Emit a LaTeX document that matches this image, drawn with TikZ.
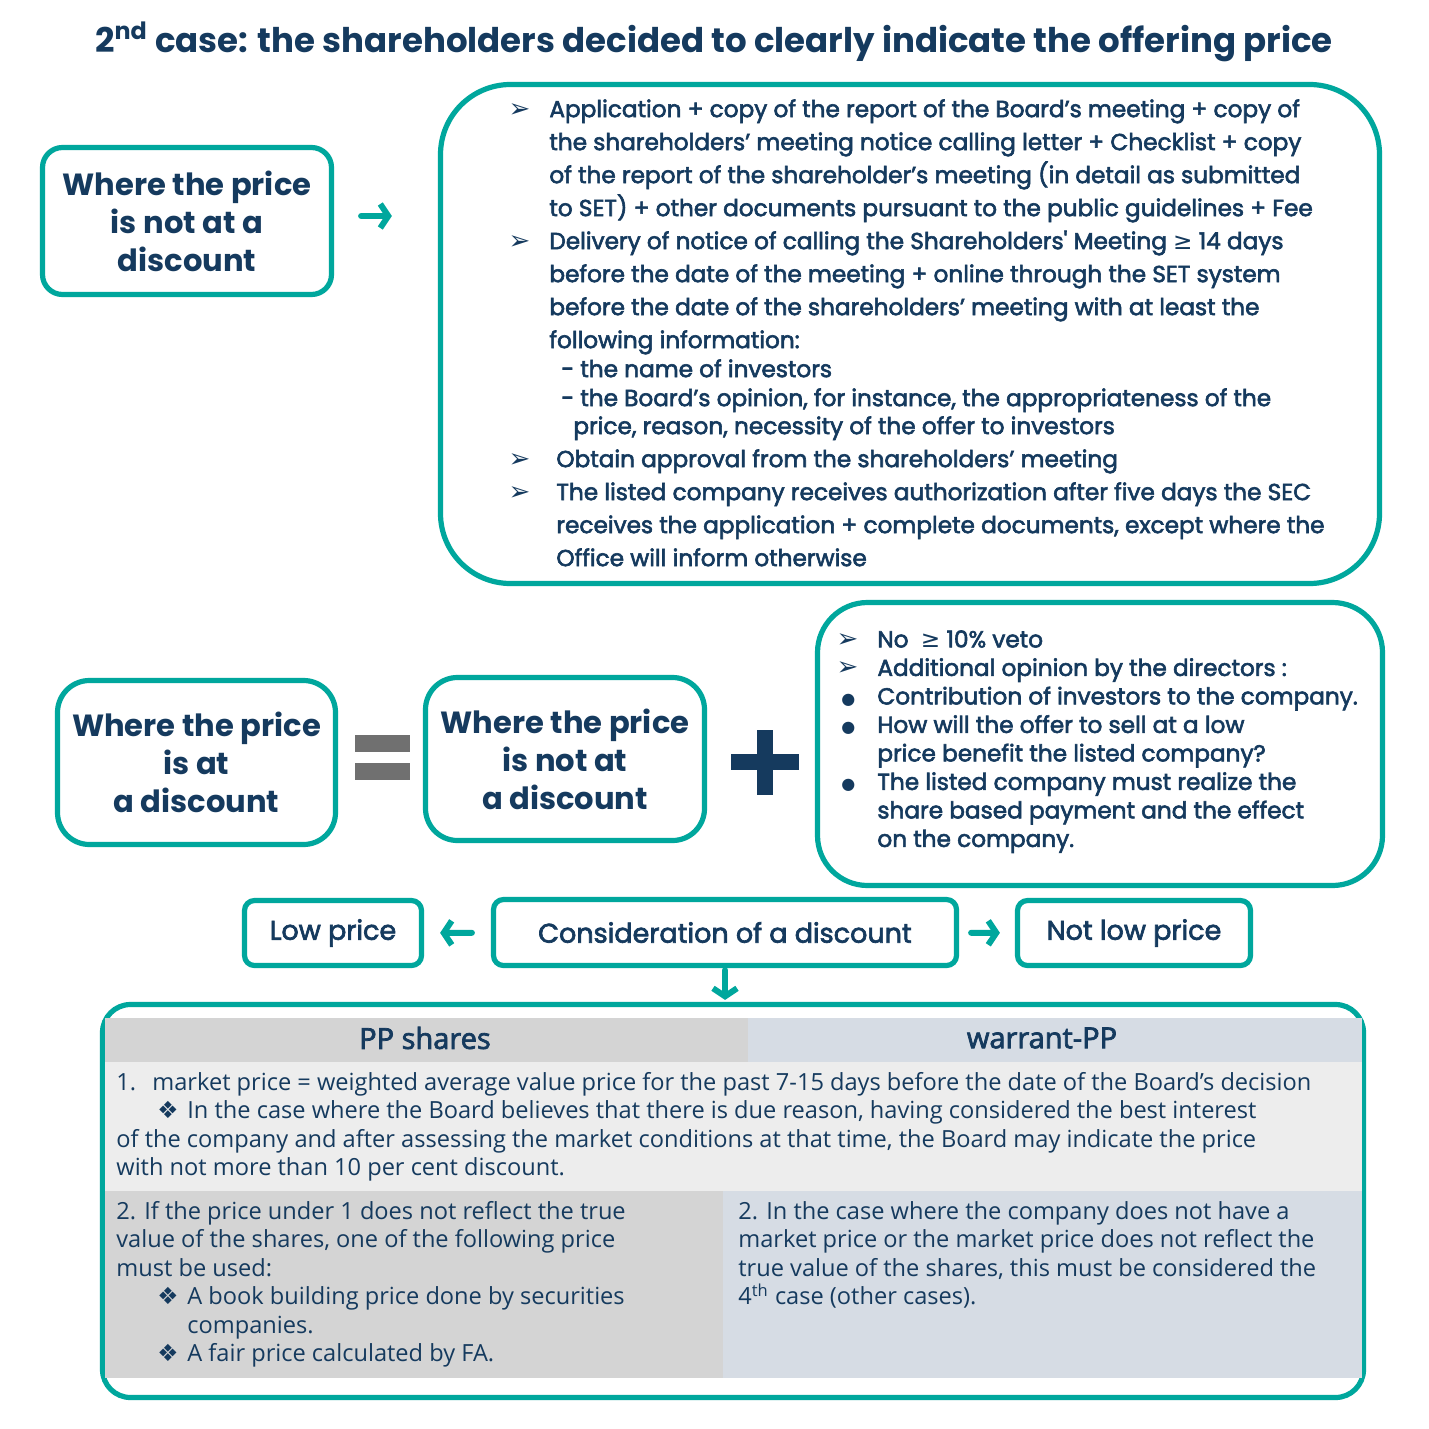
\documentclass[tikz,border=0pt]{standalone}
\usepackage{fontspec}
\setmainfont{Poppins}
\newfontfamily\medfont{Poppins}[FakeBold=2.5]
\newfontfamily\tabfont{Open Sans}
\newfontfamily\tabmed{Open Sans}[FakeBold=2.5]
\newfontfamily\symfont{DejaVu Sans}
\definecolor{SECteal}{HTML}{00A79D}
\definecolor{SECnavy}{HTML}{153A5E}
\definecolor{SECgray}{HTML}{707070}
\definecolor{SEClgray}{HTML}{D4D4D4}
\definecolor{SECblue}{HTML}{D6DCE4}
\definecolor{SECrow}{HTML}{EDEDED}
\usetikzlibrary{arrows.meta, positioning}
\newcommand{\arrbul}[1]{\llap{{\symfont\fontsize{13}{0}\selectfont ➢}\hspace{#1}}}
\newcommand{\dotbul}[1]{\llap{{\symfont\fontsize{8}{0}\selectfont ●}\hspace{#1}}}
\newcommand{\diabul}{\makebox[15pt][l]{\symfont ❖}}

\begin{document}
\begin{tikzpicture}[x=0.5pt, y=-0.5pt,
   box/.style={draw=SECteal, line width=2.6pt, fill=white, align=center, text=SECnavy, inner sep=0pt},
   txt/.style={align=left, text=SECnavy, inner sep=0pt, anchor=north west},
   arr/.style={SECteal, line width=3pt, line cap=round, -{Straight Barb[length=4pt, width=12pt]}}]
      % Page
      \fill[white] (0,0) rectangle (1429,1429);
      % Title
      \node[text=SECnavy, font=\bfseries\fontsize{17}{20}\selectfont] (title) at (714,42) {2\textsuperscript{nd} case: the shareholders decided to clearly indicate the offering price};
      % First case: price not at a discount
      \node[box, rounded corners=10pt, minimum width=144.5pt, minimum height=73.5pt, font=\bfseries\fontsize{15.3}{19}\selectfont] (notdisc) at (187,221) {Where the price\\is not at a\\discount};
      \node[box, rounded corners=35pt, minimum width=469.5pt, minimum height=249.5pt] (docs) at (910,334) {};
      \node[txt, font=\medfont\fontsize{11.6}{16.5}\selectfont] (docstxt) at (549,99) {%
         \arrbul{9.5pt}Application + copy of the report of the Board’s meeting + copy of\\
         the shareholders’ meeting notice calling letter + Checklist + copy\\
         of the report of the shareholder’s meeting (in detail as submitted\\
         to SET) + other documents pursuant to the public guidelines + Fee\\
         \arrbul{9.5pt}Delivery of notice of calling the Shareholders' Meeting {\symfont ≥} 14 days\\
         before the date of the meeting + online through the SET system\\
         before the date of the shareholders’ meeting with at least the\\
         following information:\\[-2pt]
         \hspace*{6pt}- the name of investors\\[-2pt]
         \hspace*{6pt}- the Board’s opinion, for instance, the appropriateness of the\\[-2.5pt]
         \hspace*{12pt}price, reason, necessity of the offer to investors\\
         \hspace*{3.5pt}\arrbul{13pt}Obtain approval from the shareholders’ meeting\\
         \hspace*{3.5pt}\arrbul{13pt}The listed company receives authorization after five days the SEC\\
         \hspace*{3.5pt}receives the application + complete documents, except where the\\
         \hspace*{3.5pt}Office will inform otherwise};
      \draw[arr, shorten <=13.5pt, shorten >=23pt] ([yshift=2.5pt]notdisc.east) -- ([yshift=2.5pt]notdisc.east -| docs.west);
      % Second case: price at a discount
      \node[box, rounded corners=16pt, minimum width=139pt, minimum height=82pt, font=\bfseries\fontsize{15.3}{19}\selectfont] (atdisc) at (196.5,762.5) {Where the price\\is at\\a discount};
      \fill[SECgray] (355,735) rectangle (410,752);
      \fill[SECgray] (355,763) rectangle (410,780);
      \node[box, rounded corners=16pt, minimum width=139.5pt, minimum height=81.5pt, font=\bfseries\fontsize{15.3}{19}\selectfont] (notdisc2) at (565,759) {Where the price\\is not at\\a discount};
      \fill[SECnavy] (731,754) rectangle (799,770);
      \fill[SECnavy] (757,730) rectangle (773,795);
      \node[box, rounded corners=25pt, minimum width=282.5pt, minimum height=141.5pt] (extra) at (1100,744) {};
      \node[txt, font=\medfont\fontsize{11.6}{14.25}\selectfont] (extratxt) at (877,630) {%
         \arrbul{9.5pt}No\ \ {\symfont ≥} 10\% veto\\
         \arrbul{9.5pt}Additional opinion by the directors :\\
         \dotbul{11pt}Contribution of investors to the company.\\
         \dotbul{11pt}How will the offer to sell at a low\\
         price benefit the listed company?\\
         \dotbul{11pt}The listed company must realize the\\
         share based payment and the effect\\
         on the company.};
      % Discount check
      \node[box, rounded corners=5pt, minimum width=231.5pt, minimum height=33pt, font=\medfont\fontsize{13.5}{15}\selectfont] (consid) at (725,932.5) {Consideration of a discount};
      \node[box, rounded corners=5pt, minimum width=88.5pt, minimum height=32.5pt, font=\medfont\fontsize{13.5}{15}\selectfont] (low) at (333,933) {Low price};
      \node[box, rounded corners=5pt, minimum width=116.5pt, minimum height=32.5pt, font=\medfont\fontsize{13.5}{15}\selectfont] (notlow) at (1134,933) {Not low price};
      \draw[arr, shorten <=9.5pt, shorten >=8pt] (consid) -- (low);
      \draw[arr, shorten <=6pt, shorten >=7.5pt] (consid) -- (notlow);
      % Market price table
      \node[box, rounded corners=14pt, minimum width=630.5pt, minimum height=196.5pt] (market) at (733,1201) {};
      \draw[arr, shorten <=1pt, shorten >=1pt] (consid.south) -- (consid.south |- market.north);
      \fill[SEClgray] (105,1018) rectangle (748,1062);
      \fill[SECblue] (748,1018) rectangle (1362,1062);
      \fill[SECrow] (105,1062) rectangle (1362,1191);
      \fill[SEClgray] (105,1191) rectangle (723,1378);
      \fill[SECblue] (723,1191) rectangle (1362,1378);
      \node[text=SECnavy, font=\tabmed\fontsize{14.5}{15}\selectfont] (ppshares) at (425,1038) {PP shares};
      \node[text=SECnavy, font=\tabmed\fontsize{14.5}{15}\selectfont] (warrant) at (1042,1038) {warrant-PP};
      \node[txt, font=\tabfont\fontsize{11.8}{14.25}\selectfont] (rowone) at (116,1072) {%
         \makebox[18pt][l]{1.}market price = weighted average value price for the past 7-15 days before the date of the Board’s decision\\
         \hspace*{20.5pt}\diabul In the case where the Board believes that there is due reason, having considered the best interest\\
         of the company and after assessing the market conditions at that time, the Board may indicate the price\\
         with not more than 10 per cent discount.};
      \node[txt, font=\tabfont\fontsize{11.8}{14.25}\selectfont] (rowtwol) at (116,1201) {%
         2. If the price under 1 does not reflect the true\\
         value of the shares, one of the following price\\
         must be used:\\
         \hspace*{20.5pt}\diabul A book building price done by securities\\
         \hspace*{35.5pt}companies.\\
         \hspace*{20.5pt}\diabul A fair price calculated by FA.};
      \node[txt, font=\tabfont\fontsize{11.8}{14.25}\selectfont] (rowtwor) at (738,1201) {%
         2. In the case where the company does not have a\\
         market price or the market price does not reflect the\\
         true value of the shares, this must be considered the\\
         4\textsuperscript{th} case (other cases).};
   \end{tikzpicture}
\end{document}
